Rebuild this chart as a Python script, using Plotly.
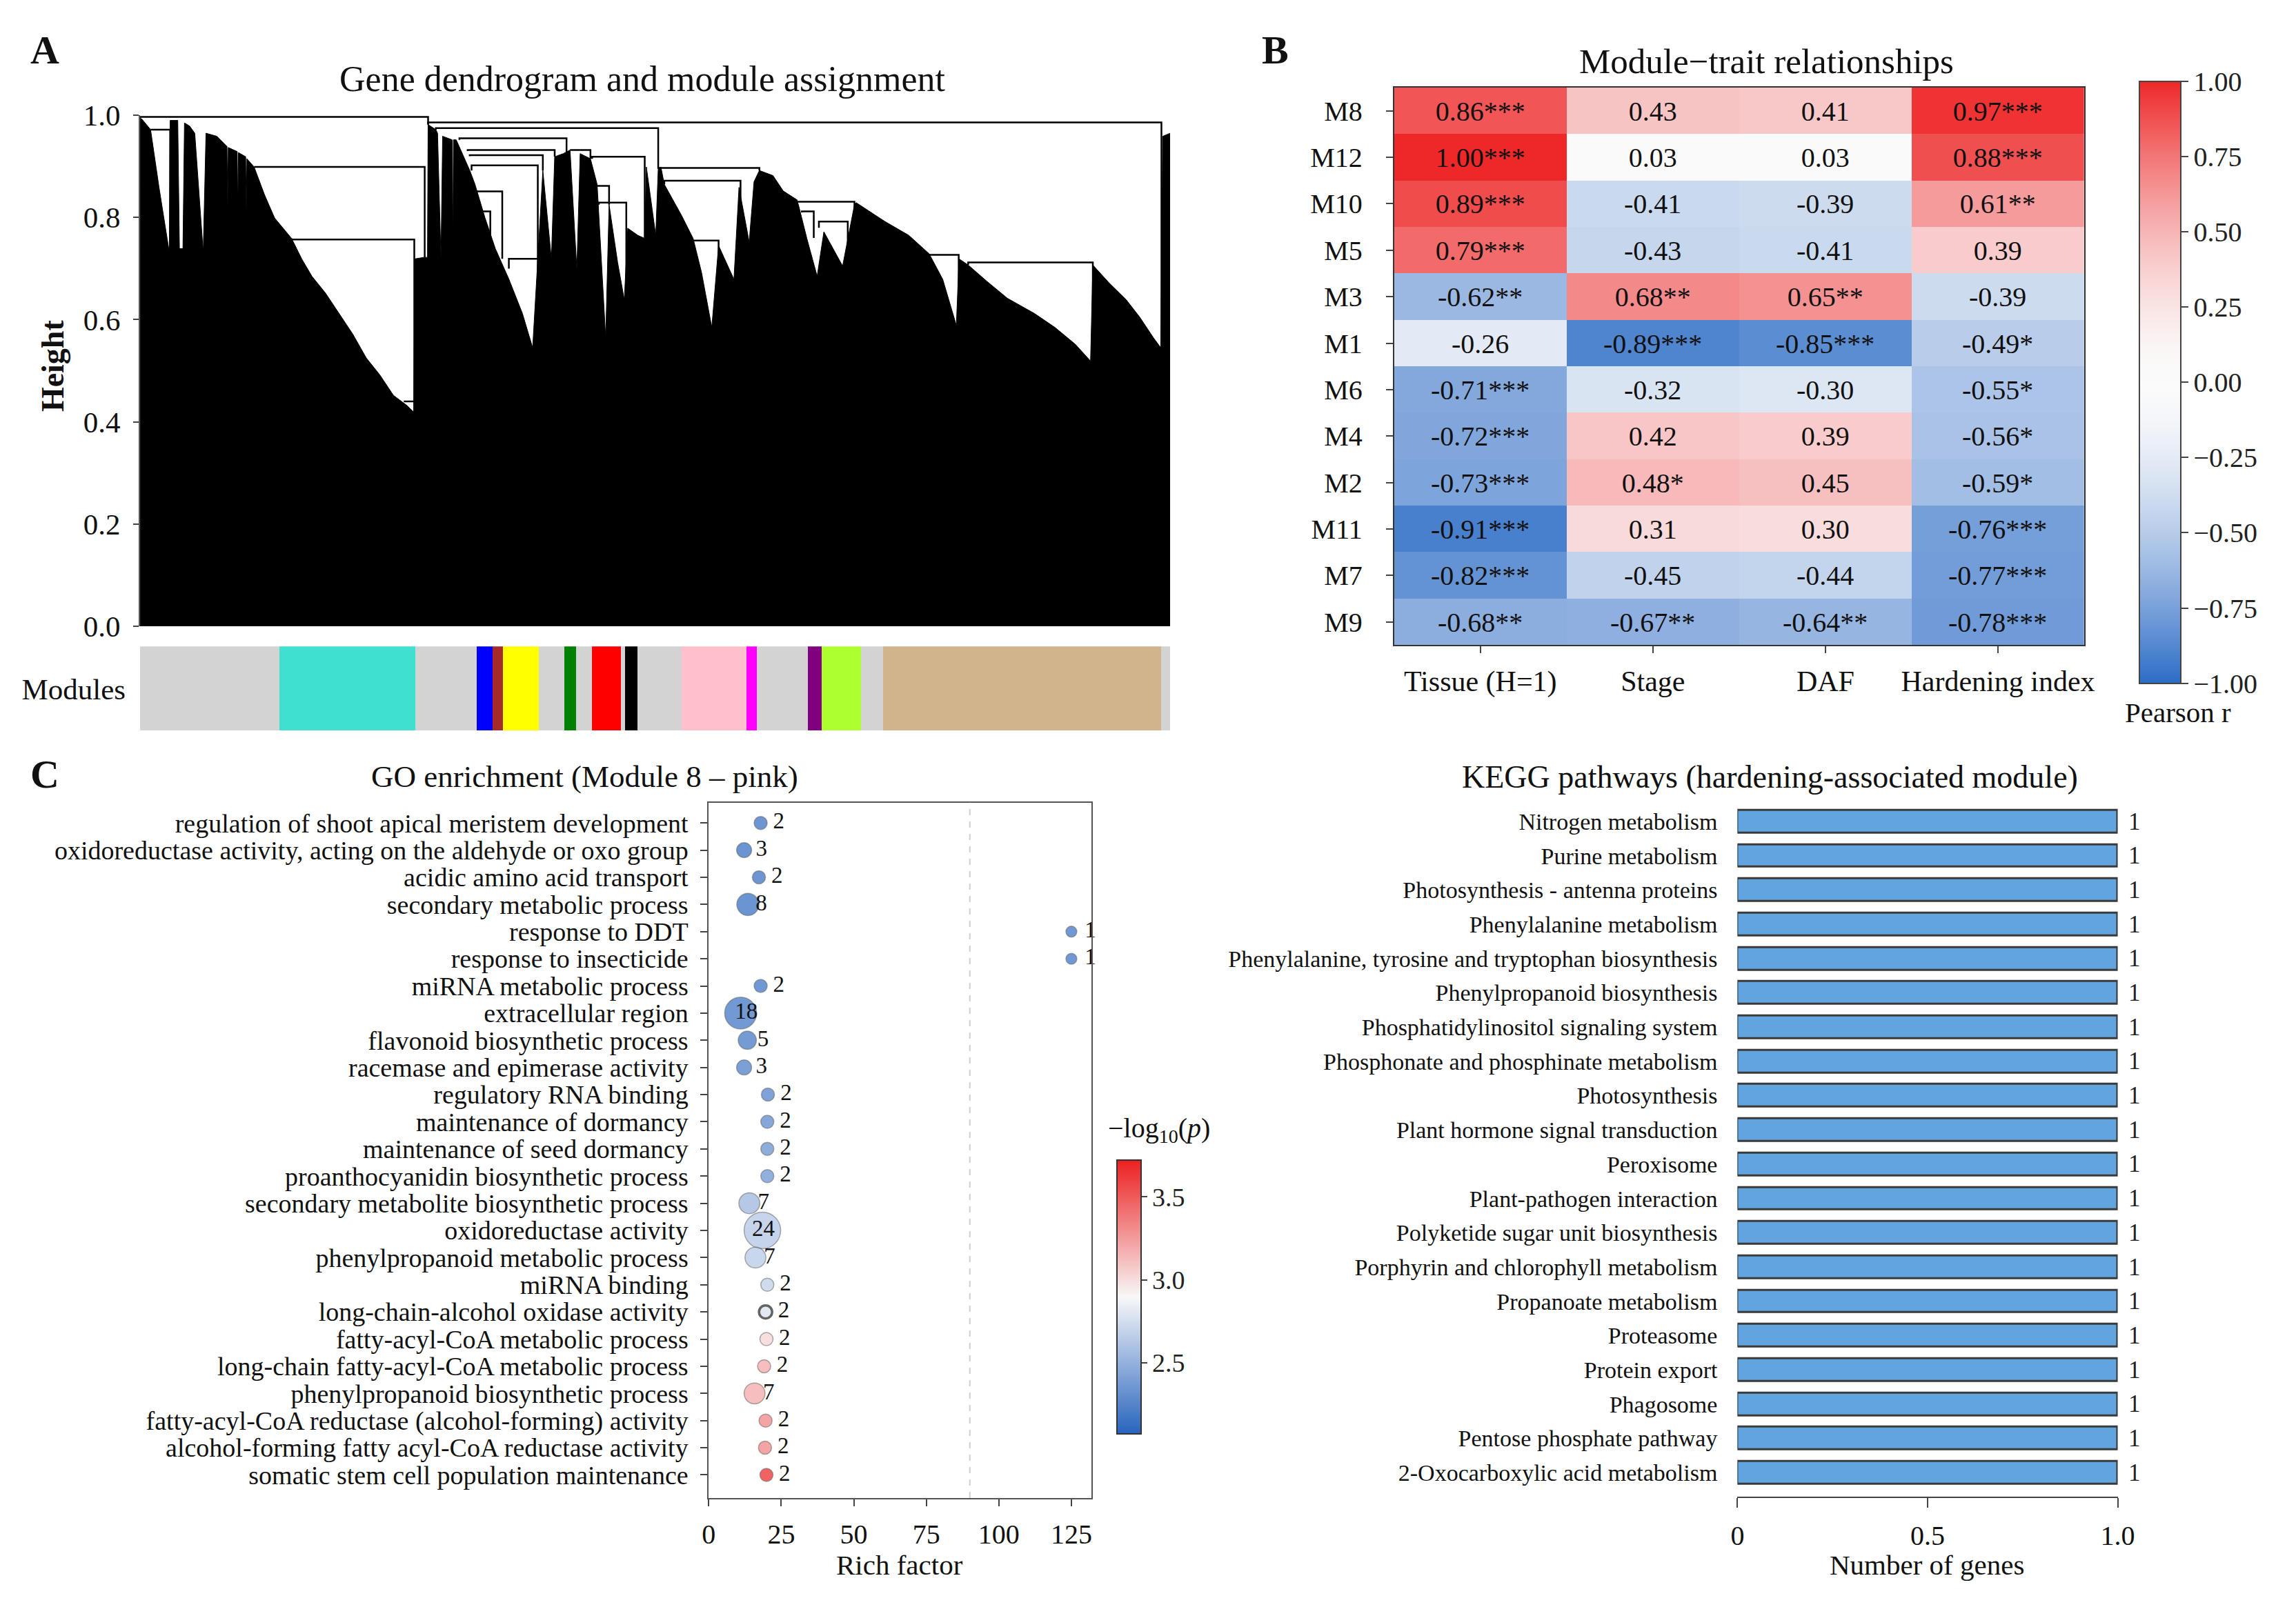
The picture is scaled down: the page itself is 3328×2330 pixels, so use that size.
import numpy as np
import plotly.graph_objects as go

W, H = 3328, 2330
FONT = 'Liberation Serif'

# ---------------- A: gene dendrogram (leaf position as fraction of genes, height)
DENDRO_POS = [0.0000, 0.0020, 0.0102, 0.0184, 0.0284, 0.0292, 0.0366, 0.0382, 0.0416, 0.0431,
              0.0481, 0.0531, 0.0613, 0.0640, 0.0745, 0.0844, 0.0850, 0.0856, 0.0943, 0.0949,
              0.0955, 0.1025, 0.1031, 0.1037, 0.1107, 0.1207, 0.1306, 0.1471, 0.1569, 0.1668,
              0.1800, 0.1932, 0.2064, 0.2196, 0.2327, 0.2459, 0.2591, 0.2657, 0.2667, 0.2756,
              0.2790, 0.2796, 0.2871, 0.2888, 0.2921, 0.2937, 0.3030, 0.3036, 0.3042, 0.3069,
              0.3201, 0.3251, 0.3349, 0.3449, 0.3581, 0.3712, 0.3811, 0.3861, 0.3910, 0.3993,
              0.4025, 0.4108, 0.4174, 0.4240, 0.4272, 0.4372, 0.4437, 0.4520, 0.4553, 0.4636,
              0.4701, 0.4734, 0.4833, 0.4899, 0.4915, 0.5006, 0.5030, 0.5056, 0.5089, 0.5254,
              0.5369, 0.5451, 0.5550, 0.5616, 0.5765, 0.5814, 0.5913, 0.5960, 0.6012, 0.6144,
              0.6243, 0.6374, 0.6391, 0.6473, 0.6573, 0.6638, 0.6820, 0.6935, 0.6952, 0.7232,
              0.7463, 0.7660, 0.7792, 0.7924, 0.7950, 0.8039, 0.8221, 0.8419, 0.8683, 0.8880,
              0.9078, 0.9227, 0.9249, 0.9407, 0.9573, 0.9704, 0.9836, 0.9909, 0.9928, 1.0000]
DENDRO_HEIGHT = [0.995, 0.992, 0.972, 0.859, 0.732, 0.990, 0.990, 0.739, 0.739, 0.985,
                 0.979, 0.965, 0.732, 0.965, 0.959, 0.939, 0.820, 0.937, 0.929, 0.812,
                 0.927, 0.919, 0.810, 0.915, 0.899, 0.845, 0.799, 0.759, 0.719, 0.685,
                 0.652, 0.612, 0.572, 0.525, 0.492, 0.452, 0.432, 0.419, 0.719, 0.722,
                 0.722, 0.982, 0.972, 0.965, 0.719, 0.959, 0.952, 0.732, 0.952, 0.952,
                 0.892, 0.865, 0.799, 0.739, 0.679, 0.612, 0.545, 0.719, 0.892, 0.719,
                 0.919, 0.925, 0.932, 0.699, 0.925, 0.915, 0.865, 0.565, 0.825, 0.712,
                 0.639, 0.779, 0.765, 0.759, 0.899, 0.765, 0.895, 0.899, 0.865, 0.805,
                 0.759, 0.692, 0.585, 0.745, 0.679, 0.859, 0.752, 0.870, 0.892, 0.882,
                 0.852, 0.835, 0.825, 0.759, 0.685, 0.772, 0.705, 0.825, 0.829, 0.792,
                 0.765, 0.729, 0.679, 0.589, 0.719, 0.707, 0.675, 0.642, 0.612, 0.585,
                 0.552, 0.519, 0.707, 0.672, 0.639, 0.605, 0.565, 0.545, 0.959, 0.965]

# merges: left leaf, right leaf, merge height, left branch height, right branch height
DENDRO_LINKS = [
    (0.0000, 0.2796, 0.997, 0.995, 0.982),
    (0.2796, 0.9915, 0.986, 0.982, 0.545),
    (0.2871, 0.5030, 0.975, 0.972, 0.899),
    (0.0102, 0.0292, 0.972, 0.972, 0.732),
    (0.1107, 0.2763, 0.899, 0.899, 0.722),
    (0.1471, 0.2662, 0.757, 0.759, 0.419),
    (0.2560, 0.2662, 0.440, 0.440, 0.440),
    (0.3100, 0.4140, 0.955, 0.952, 0.925),
    (0.3180, 0.4025, 0.932, 0.930, 0.919),
    (0.3200, 0.3910, 0.922, 0.920, 0.892),
    (0.3218, 0.3861, 0.902, 0.892, 0.545),
    (0.3218, 0.3516, 0.851, 0.850, 0.719),
    (0.3250, 0.3400, 0.812, 0.812, 0.725),
    (0.3580, 0.3858, 0.719, 0.700, 0.720),
    (0.4174, 0.4372, 0.932, 0.932, 0.915),
    (0.4388, 0.4899, 0.919, 0.915, 0.759),
    (0.4437, 0.4553, 0.862, 0.862, 0.825),
    (0.4454, 0.4720, 0.829, 0.825, 0.639),
    (0.5030, 0.6012, 0.897, 0.899, 0.892),
    (0.5089, 0.5829, 0.872, 0.865, 0.679),
    (0.5352, 0.5616, 0.755, 0.759, 0.712),
    (0.6374, 0.6935, 0.831, 0.835, 0.739),
    (0.6424, 0.6540, 0.812, 0.810, 0.760),
    (0.6590, 0.6870, 0.792, 0.780, 0.720),
    (0.7660, 0.7947, 0.727, 0.729, 0.589),
    (0.8039, 0.9249, 0.712, 0.707, 0.519),
]

MODULE_COLORS = ['grey', 'turquoise', 'grey', 'blue', 'brown', 'yellow', 'grey', 'green', 'grey',
                 'red', 'grey', 'black', 'grey', 'pink', 'magenta', 'grey', 'purple',
                 'greenyellow', 'grey', 'tan', 'grey']
MODULE_START = [0.0, 0.135, 0.267, 0.327, 0.342, 0.352, 0.387, 0.412, 0.423, 0.439, 0.467,
                0.471, 0.483, 0.526, 0.589, 0.599, 0.648, 0.662, 0.700, 0.721, 0.991]
MODULE_END = MODULE_START[1:] + [1.0]

# ---------------- B: module-trait relationships
MODULES = ['M8', 'M12', 'M10', 'M5', 'M3', 'M1', 'M6', 'M4', 'M2', 'M11', 'M7', 'M9']
TRAITS = ['Tissue (H=1)', 'Stage', 'DAF', 'Hardening index']
TISSUE_R = [0.86, 1.00, 0.89, 0.79, -0.62, -0.26, -0.71, -0.72, -0.73, -0.91, -0.82, -0.68]
STAGE_R = [0.43, 0.03, -0.41, -0.43, 0.68, -0.89, -0.32, 0.42, 0.48, 0.31, -0.45, -0.67]
DAF_R = [0.41, 0.03, -0.39, -0.41, 0.65, -0.85, -0.30, 0.39, 0.45, 0.30, -0.44, -0.64]
HARDENING_R = [0.97, 0.88, 0.61, 0.39, -0.39, -0.49, -0.55, -0.56, -0.59, -0.76, -0.77, -0.78]
TISSUE_STARS = [3, 3, 3, 3, 2, 0, 3, 3, 3, 3, 3, 2]
STAGE_STARS = [0, 0, 0, 0, 2, 3, 0, 0, 1, 0, 0, 2]
DAF_STARS = [0, 0, 0, 0, 2, 3, 0, 0, 0, 0, 0, 2]
HARDENING_STARS = [3, 3, 2, 0, 0, 1, 1, 1, 1, 3, 3, 3]

# ---------------- C: GO enrichment
GO_TERMS = ['regulation of shoot apical meristem development',
            'oxidoreductase activity, acting on the aldehyde or oxo group',
            'acidic amino acid transport', 'secondary metabolic process', 'response to DDT',
            'response to insecticide', 'miRNA metabolic process', 'extracellular region',
            'flavonoid biosynthetic process', 'racemase and epimerase activity',
            'regulatory RNA binding', 'maintenance of dormancy', 'maintenance of seed dormancy',
            'proanthocyanidin biosynthetic process', 'secondary metabolite biosynthetic process',
            'oxidoreductase activity', 'phenylpropanoid metabolic process', 'miRNA binding',
            'long-chain-alcohol oxidase activity', 'fatty-acyl-CoA metabolic process',
            'long-chain fatty-acyl-CoA metabolic process', 'phenylpropanoid biosynthetic process',
            'fatty-acyl-CoA reductase (alcohol-forming) activity',
            'alcohol-forming fatty acyl-CoA reductase activity',
            'somatic stem cell population maintenance']
GO_RICH = [17.9, 12.2, 17.3, 13.5, 125.0, 125.0, 17.9, 11.0, 13.3, 12.2, 20.4, 20.2, 20.2,
           20.2, 14.0, 18.5, 16.1, 20.2, 19.6, 19.9, 19.1, 15.8, 19.6, 19.4, 19.9]
GO_COUNT = [2, 3, 2, 8, 1, 1, 2, 18, 5, 3, 2, 2, 2, 2, 7, 24, 7, 2, 2, 2, 2, 7, 2, 2, 2]
GO_LOGP = [2.10, 2.09, 2.10, 2.09, 2.12, 2.12, 2.12, 2.13, 2.14, 2.18, 2.20, 2.24, 2.29,
           2.31, 2.51, 2.60, 2.62, 2.66, 2.76, 3.04, 3.22, 3.22, 3.36, 3.36, 3.72]

# ---------------- KEGG
KEGG_PATHWAYS = ['Nitrogen metabolism', 'Purine metabolism', 'Photosynthesis - antenna proteins',
                 'Phenylalanine metabolism',
                 'Phenylalanine, tyrosine and tryptophan biosynthesis',
                 'Phenylpropanoid biosynthesis', 'Phosphatidylinositol signaling system',
                 'Phosphonate and phosphinate metabolism', 'Photosynthesis',
                 'Plant hormone signal transduction', 'Peroxisome', 'Plant-pathogen interaction',
                 'Polyketide sugar unit biosynthesis', 'Porphyrin and chlorophyll metabolism',
                 'Propanoate metabolism', 'Proteasome', 'Protein export', 'Phagosome',
                 'Pentose phosphate pathway', '2-Oxocarboxylic acid metabolism']
KEGG_COUNT = [1] * 20
KEGG_RANGE = [0, 1]


def fx(p):
    return p / W


def fy(p):
    return 1 - p / H


def ramp(lo, hi, white, gamma, n=40):
    # blue-white-red ramp, intensity grows as |r|**gamma
    out = []
    for k in range(n + 1):
        v = -1 + 2 * k / n
        t = abs(v) ** gamma
        end = lo if v < 0 else hi
        rgb = [round(w + t * (e - w)) for w, e in zip(white, end)]
        out.append([k / n, 'rgb(%d,%d,%d)' % tuple(rgb)])
    return out


HEAT_SCALE = ramp((44, 108, 198), (238, 40, 40), (251, 251, 251), 1.6)
GO_SCALE = [[0, '#2864be'], [0.5, '#f8f8f8'], [1, '#ec2020']]
CSS = {'grey': '#d3d3d3'}

fig = go.Figure()

# dendrogram body
fig.add_trace(go.Scatter(x=DENDRO_POS, y=DENDRO_HEIGHT, mode='lines', fill='tozeroy',
                         fillcolor='black', line=dict(color='black', width=1),
                         xaxis='x', yaxis='y', hoverinfo='skip'))
lx, ly = [], []
for fl, fr, hm, hl, hr in DENDRO_LINKS:
    lx += [fl, fl, fr, fr, None]
    ly += [hl, hm, hm, hr, None]
fig.add_trace(go.Scatter(x=lx, y=ly, mode='lines', line=dict(color='black', width=2.5),
                         xaxis='x', yaxis='y', cliponaxis=False, hoverinfo='skip'))

# module colour bar
fig.add_trace(go.Bar(y=['Modules'] * len(MODULE_COLORS),
                     x=[e - s for s, e in zip(MODULE_START, MODULE_END)],
                     base=MODULE_START, orientation='h', width=1,
                     marker=dict(color=[CSS.get(c, c) for c in MODULE_COLORS], line_width=0),
                     xaxis='x2', yaxis='y2', hoverinfo='skip'))

# heatmap
cols_r = [TISSUE_R, STAGE_R, DAF_R, HARDENING_R]
cols_s = [TISSUE_STARS, STAGE_STARS, DAF_STARS, HARDENING_STARS]
z = [[cols_r[j][i] for j in range(4)] for i in range(len(MODULES))]
txt = [[f'{cols_r[j][i]:.2f}' + '*' * cols_s[j][i] for j in range(4)] for i in range(len(MODULES))]
fig.add_trace(go.Heatmap(
    z=z, x=TRAITS, y=MODULES, text=txt, texttemplate='%{text}',
    textfont=dict(size=40, color='#111', family=FONT),
    colorscale=HEAT_SCALE, zmin=-1, zmax=1, xaxis='x3', yaxis='y3',
    colorbar=dict(x=fx(3116), xanchor='left', y=fy(534), yanchor='middle',
                  thickness=60, thicknessmode='pixels', len=873, lenmode='pixels',
                  tickvals=[-1, -0.75, -0.5, -0.25, 0, 0.25, 0.5, 0.75, 1], tickformat='.2f',
                  ticks='outside', ticklen=10, tickwidth=2, tickcolor='#444',
                  tickfont=dict(size=40, family=FONT, color='#222'),
                  outlinecolor='#444', outlinewidth=2, xpad=0, ypad=0)))

# GO bubbles
diam = np.sqrt(140 + 111 * np.array(GO_COUNT))
ring = [3.5 if t == 'long-chain-alcohol oxidase activity' else 1.5 for t in GO_TERMS]
ring_col = ['#222' if t == 'long-chain-alcohol oxidase activity' else 'rgba(40,40,40,0.55)'
            for t in GO_TERMS]
fig.add_trace(go.Scatter(
    x=GO_RICH, y=GO_TERMS, mode='markers', xaxis='x4', yaxis='y4',
    marker=dict(size=diam, color=GO_LOGP, colorscale=GO_SCALE, cmin=2.07, cmax=3.72,
                line=dict(color=ring_col, width=ring), showscale=True,
                colorbar=dict(x=fx(1618), xanchor='left', y=fy(1888), yanchor='middle',
                              thickness=35, thicknessmode='pixels', len=397, lenmode='pixels',
                              tickvals=[2.5, 3.0, 3.5], tickformat='.1f',
                              ticks='outside', ticklen=8, tickwidth=2, tickcolor='#444',
                              tickfont=dict(size=38, family=FONT, color='#222'),
                              outlinecolor='#333', outlinewidth=2, xpad=0, ypad=0)),
    hoverinfo='skip'))
fig.add_trace(go.Scatter(
    x=[r + 6.8 - 0.27 * c for r, c in zip(GO_RICH, GO_COUNT)], y=GO_TERMS, mode='text',
    text=[str(c) for c in GO_COUNT], textfont=dict(size=33, family=FONT, color='#111'),
    xaxis='x4', yaxis='y4', cliponaxis=False, hoverinfo='skip'))

# KEGG bars
fig.add_trace(go.Bar(x=KEGG_COUNT, y=KEGG_PATHWAYS, orientation='h', width=0.66,
                     marker=dict(color='#62a4dd', line=dict(color='#3a3a3a', width=3)),
                     xaxis='x5', yaxis='y5', hoverinfo='skip'))
# count labels just past the bar ends (x in axis-domain units so they may sit outside)
for name, c in zip(KEGG_PATHWAYS, KEGG_COUNT):
    xd = (c - KEGG_RANGE[0]) / (KEGG_RANGE[1] - KEGG_RANGE[0]) + 0.065
    fig.add_annotation(x=xd, y=name, xref='x5 domain', yref='y5', text=str(c),
                       showarrow=False, font=dict(size=35, family=FONT, color='#222'))

tick = dict(ticks='outside', tickwidth=2, tickcolor='#444', showgrid=False, zeroline=False)
hidden = dict(visible=False, showgrid=False, zeroline=False)


def tf(size):
    return dict(size=size, family=FONT, color='#111')


fig.update_layout(
    width=W, height=H, margin=dict(l=0, r=0, t=0, b=0),
    paper_bgcolor='white', plot_bgcolor='white', showlegend=False, bargap=0,
    font=dict(family=FONT, color='#111'),
    xaxis=dict(domain=[fx(187), fx(1696)], range=[0, 1], anchor='y', **hidden),
    yaxis=dict(domain=[fy(895), fy(139)], range=[0, 1], anchor='x',
               tickvals=[0, 0.2, 0.4, 0.6, 0.8, 1.0], tickformat='.1f', ticklen=8,
               showline=True, linecolor='#555', linewidth=2, ticklabelstandoff=10,
               tickfont=tf(43), **tick),
    xaxis2=dict(domain=[fx(187), fx(1696)], range=[0, 1], anchor='y2', **hidden),
    yaxis2=dict(domain=[fy(1050), fy(925)], anchor='x2', ticks='', showgrid=False,
                zeroline=False, ticklabelstandoff=20, tickfont=tf(43)),
    xaxis3=dict(domain=[fx(2024), fx(3035)], anchor='y3', ticklen=10, showline=True,
                mirror=True, linecolor='#333', linewidth=2, ticklabelstandoff=4,
                tickfont=tf(42), **tick),
    yaxis3=dict(domain=[fy(923), fy(98)], anchor='x3', autorange='reversed', ticklen=10,
                showline=True, mirror=True, linecolor='#333', linewidth=2,
                ticklabelstandoff=26, tickfont=tf(40), **tick),
    xaxis4=dict(domain=[fx(1020), fx(1581)], anchor='y4', range=[0, 132],
                tickvals=[0, 25, 50, 75, 100, 125], ticklen=10, showline=True, mirror=True,
                linecolor='#555', linewidth=2, ticklabelstandoff=6, tickfont=tf(40), **tick),
    yaxis4=dict(domain=[fy(2185), fy(1156)], anchor='x4', type='category',
                categoryorder='array', categoryarray=GO_TERMS, range=[24.85, -0.75],
                tickmode='linear', dtick=1, ticklen=10, showline=True, mirror=True,
                linecolor='#555', linewidth=2, ticklabelstandoff=10, tickfont=tf(38), **tick),
    xaxis5=dict(domain=[fx(2527), fx(3084)], anchor='y5', range=KEGG_RANGE,
                tickvals=[0, 0.5, 1], ticktext=['0', '0.5', '1.0'], ticklen=14,
                showline=True, linecolor='#444', linewidth=2, ticklabelstandoff=6,
                tickfont=tf(40), **tick),
    yaxis5=dict(domain=[fy(2183), fy(1156)], anchor='x5', type='category',
                categoryorder='array', categoryarray=KEGG_PATHWAYS, range=[19.7, -0.55],
                tickmode='linear', dtick=1, ticks='', showline=False, showgrid=False,
                zeroline=False, ticklabelstandoff=28, tickfont=tf(34)),
)

fig.add_shape(type='line', xref='x4', yref='y4 domain', x0=90, x1=90, y0=0, y1=1,
              line=dict(color='#d0d0d0', width=2, dash='dash'))


def note(text, x, y, size, angle=0):
    fig.add_annotation(text=text, x=fx(x), y=fy(y), xref='paper', yref='paper',
                       showarrow=False, textangle=angle, xanchor='center', yanchor='middle',
                       font=tf(size))


note('<b>A</b>', 47, 42, 58)
note('<b>B</b>', 1850, 42, 58)
note('<b>C</b>', 47, 1114, 58)
note('Gene dendrogram and module assignment', 923, 85, 52)
note('Module\u2212trait relationships', 2570, 59, 51)
note('GO enrichment (Module 8 \u2013 pink)', 838, 1118, 45)
note('KEGG pathways (hardening-associated module)', 2575, 1118, 46)
note('<b>Height</b>', 59, 509, 46, angle=-90)
note('Pearson r', 3172, 1023, 41)
note('\u2212log<sub>10</sub>(<i>p</i>)', 1680, 1640, 40)
note('Rich factor', 1300, 2284, 41)
note('Number of genes', 2804, 2284, 41)

fig.write_html('out.html')
